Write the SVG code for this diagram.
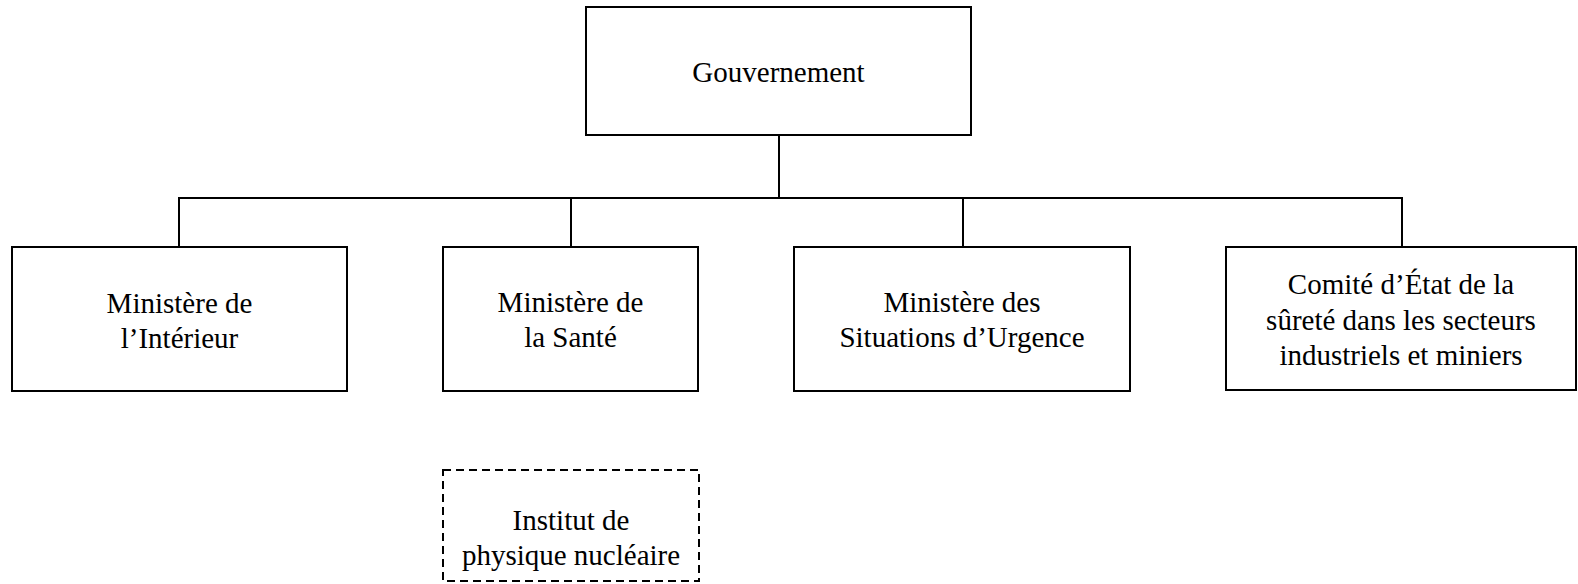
<svg xmlns="http://www.w3.org/2000/svg" width="1578" height="584" viewBox="0 0 1578 584">
  <style>
    .box { fill: #ffffff; stroke: #000000; stroke-width: 2; }
    .dashed { stroke-dasharray: 8 5; }
    .lbl { font-size: 29px; fill: #000000; text-anchor: middle; }
    .link { fill: none; stroke: #000000; stroke-width: 2; }
  </style>
  <rect width="1578" height="584" fill="#ffffff"/>

  <!-- connectors -->
  <g id="connectors">
    <path class="link" d="M779 135 V198"/>
    <path class="link" d="M179 247 V198 H1402 V247"/>
    <path class="link" d="M571 198 V247"/>
    <path class="link" d="M963 198 V247"/>
  </g>

  <g font-family="Liberation Serif, DejaVu Serif, serif">
    <g id="gouvernement">
      <rect class="box" x="586" y="7" width="385" height="128"/>
      <text class="lbl" x="778.5" y="82">Gouvernement</text>
    </g>

    <g id="interieur">
      <rect class="box" x="12" y="247" width="335" height="144"/>
      <text class="lbl" x="179.5" y="313">Ministère de</text>
      <text class="lbl" x="179.5" y="348">l’Intérieur</text>
    </g>

    <g id="sante">
      <rect class="box" x="443" y="247" width="255" height="144"/>
      <text class="lbl" x="570.5" y="312">Ministère de</text>
      <text class="lbl" x="570.5" y="347">la Santé</text>
    </g>

    <g id="urgence">
      <rect class="box" x="794" y="247" width="336" height="144"/>
      <text class="lbl" x="962" y="312">Ministère des</text>
      <text class="lbl" x="962" y="347">Situations d’Urgence</text>
    </g>

    <g id="comite">
      <rect class="box" x="1226" y="247" width="350" height="143"/>
      <text class="lbl" x="1401" y="294">Comité d’État de la</text>
      <text class="lbl" x="1401" y="330">sûreté dans les secteurs</text>
      <text class="lbl" x="1401" y="365">industriels et miniers</text>
    </g>

    <g id="institut">
      <rect class="box dashed" x="443" y="470" width="256" height="111"/>
      <text class="lbl" x="571" y="530">Institut de</text>
      <text class="lbl" x="571" y="565">physique nucléaire</text>
    </g>
  </g>
</svg>
